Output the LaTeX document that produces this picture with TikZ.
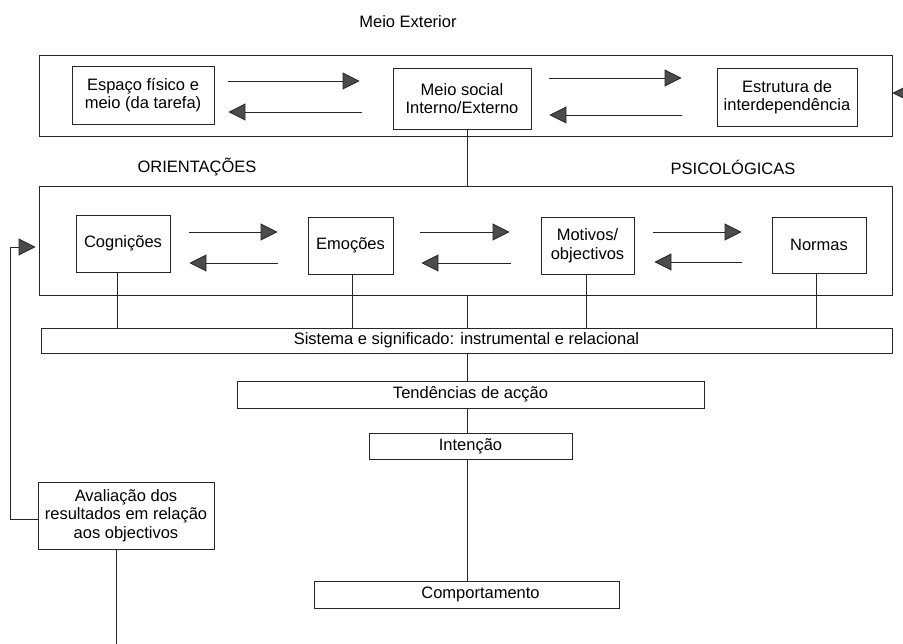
\documentclass[tikz,border=0pt]{standalone}
\usepackage{fontspec}
\setmainfont{Liberation Sans}
\usetikzlibrary{arrows.meta}
\begin{document}
\begin{tikzpicture}[x=1pt,y=-1pt,
  line/.style={draw=black!85, line width=0.9pt},
  box/.style={line, inner sep=0pt, align=center, font=\fontsize{16.5}{18.5}\selectfont},
  lbl/.style={inner sep=0pt, font=\fontsize{16.5}{18.5}\selectfont},
  arr/.style={line, -{Triangle[length=17pt,width=17pt,fill=black!70]}},
]
\useasboundingbox (0,0) rectangle (903,644);

% titles
\node[lbl] (title) at (408,22) {Meio Exterior};
\node[lbl] (ori) at (197,167) {ORIENTAÇÕES};
\node[lbl] (psi) at (733,167) {PSICOLÓGICAS};

% outer frames
\node[box, minimum width=853pt, minimum height=81pt] (o1) at (465.5,95.5) {};
\node[box, minimum width=853pt, minimum height=109pt] (o2) at (465.5,240.5) {};

% top row
\node[box, minimum width=142pt, minimum height=58pt] (esp) at (143,95) {Espaço físico e\\meio (da tarefa)};
\node[box, minimum width=138pt, minimum height=61pt] (soc) at (462,98.5) {Meio social\\Interno/Externo};
\node[box, minimum width=140pt, minimum height=58pt] (est) at (787,97) {Estrutura de\\interdependência};

% second row
\node[box, minimum width=94pt, minimum height=57pt] (cog) at (123,243.5) {Cognições};
\node[box, minimum width=85pt, minimum height=57pt] (emo) at (350.5,245.5) {Emoções};
\node[box, minimum width=93pt, minimum height=57pt] (mot) at (587.5,245.5) {Motivos/\\objectivos};
\node[box, minimum width=94pt, minimum height=56pt] (nor) at (819,245) {Normas};

% lower chain
\node[box, minimum width=851pt, minimum height=25pt] (sis) at (466.5,340.5) {Sistema e significado: instrumental e relacional};
\node[box, minimum width=467pt, minimum height=27pt] (ten) at (470.5,394.5) {Tendências de acção};
\node[box, minimum width=203pt, minimum height=26pt] (int) at (470.5,446) {Intenção};
\node[box, minimum width=305pt, minimum height=27pt] (com) at (466.5,594.5) {\hspace*{28pt}Comportamento};
\node[box, minimum width=176pt, minimum height=67pt] (ava) at (126,515.5) {Avaliação dos\\resultados em relação\\aos objectivos};

% top row arrows
\draw[arr, shorten <=14pt, shorten >=33pt] (esp.east |- 0,81) -- (soc.west |- 0,81);
\draw[arr, shorten <=31pt, shorten >=14pt] (soc.west |- 0,112) -- (esp.east |- 0,112);
\draw[arr, shorten <=18pt, shorten >=35pt] (soc.east |- 0,78) -- (est.west |- 0,78);
\draw[arr, shorten <=35pt, shorten >=18pt] (est.west |- 0,115) -- (soc.east |- 0,115);

% second row arrows
\draw[arr, shorten <=19pt, shorten >=30pt] (cog.east |- 0,232) -- (emo.west |- 0,232);
\draw[arr, shorten <=30pt, shorten >=19pt] (emo.west |- 0,263) -- (cog.east |- 0,263);
\draw[arr, shorten <=27pt, shorten >=31pt] (emo.east |- 0,232) -- (mot.west |- 0,232);
\draw[arr, shorten <=30pt, shorten >=28pt] (mot.west |- 0,263) -- (emo.east |- 0,263);
\draw[arr, shorten <=19pt, shorten >=30pt] (mot.east |- 0,232) -- (nor.west |- 0,232);
\draw[arr, shorten <=30pt, shorten >=20pt] (nor.west |- 0,262) -- (mot.east |- 0,262);

% incoming arrow at right
\coordinate (rin) at (920,93);
\draw[arr] (rin) -- (o1.east |- 0,93);

% vertical connectors
\draw[line] (soc.south -| 467,0) -- (o2.north -| 467,0);
\draw[line] (cog.south -| 117,0) -- (sis.north -| 117,0);
\draw[line] (emo.south -| 352,0) -- (sis.north -| 352,0);
\draw[line] (mot.south -| 586,0) -- (sis.north -| 586,0);
\draw[line] (nor.south -| 816,0) -- (sis.north -| 816,0);
\draw[line] (o2.south -| 467,0) -- (sis.north -| 467,0);
\draw[line] (sis.south -| 467,0) -- (ten.north -| 467,0);
\draw[line] (ten.south -| 467,0) -- (int.north -| 467,0);
\draw[line] (int.south -| 467,0) -- (com.north -| 467,0);

% evaluation
\coordinate (avend) at (116,650);
\draw[line] (ava.south -| 116,0) -- (avend);
\draw[arr, shorten >=3pt] (ava.west |- 0,519) -- (10,519) -- (10,247) -- (o2.west |- 0,247);

\end{tikzpicture}
\end{document}
